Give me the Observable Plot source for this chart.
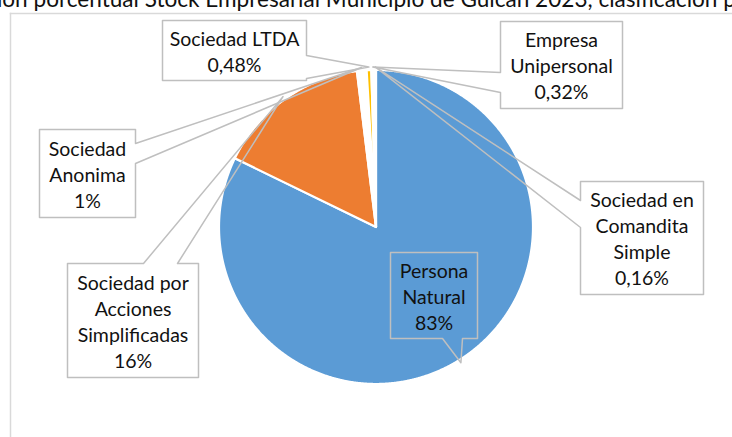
<!DOCTYPE html>
<html>
<head>
<meta charset="utf-8">
<script src="https://cdn.jsdelivr.net/npm/d3@7"></script>
<script src="https://cdn.jsdelivr.net/npm/@observablehq/plot@0.6"></script>
<style>
  html, body { margin: 0; padding: 0; background: #fff; overflow: hidden; }
</style>
</head>
<body>
<div id="chart"></div>
<script>
// ---------- data ----------
const title = "Distribución porcentual Stock Empresarial Municipio de Güicán 2023, clasificación por organización jurídica";
const categories = [
  "Persona Natural",
  "Sociedad por Acciones Simplificadas",
  "Sociedad Anonima",
  "Sociedad LTDA",
  "Empresa Unipersonal",
  "Sociedad en Comandita Simple"
];
const shares = [83, 16, 1, 0.48, 0.32, 0.16];
const shareLabels = ["83%", "16%", "1%", "0,48%", "0,32%", "0,16%"];
const sliceColors = ["#5B9BD5", "#ED7D31", "#FFFFFF", "#FFC000", "#FFFFFF", "#FFFFFF"];

// ---------- layout ----------
const W = 732, H = 437;
const pieGeom = { cx: 375.5, cy: 226.5, r: 157 };
const callouts = [
  { name: "Persona Natural", box: [390, 252, 477, 338], side: "bottom", base: [442, 462], lines: ["Persona", "Natural"], fill: "none" },
  { name: "Sociedad por Acciones Simplificadas", box: [67, 263, 198, 377], side: "top", base: [143, 177], lines: ["Sociedad por", "Acciones", "Simplificadas"], fill: "white" },
  { name: "Sociedad Anonima", box: [39, 129, 135, 217], side: "right", base: [143, 163], lines: ["Sociedad", "Anonima"], fill: "white" },
  { name: "Sociedad LTDA", box: [162, 20, 306, 80], side: "right", base: [55, 78], lines: ["Sociedad LTDA"], fill: "white" },
  { name: "Empresa Unipersonal", box: [500, 21, 622, 108], side: "left", base: [72, 92], lines: ["Empresa", "Unipersonal"], fill: "white" },
  { name: "Sociedad en Comandita Simple", box: [580, 181, 703, 294], side: "left", base: [200, 227], lines: ["Sociedad en", "Comandita", "Simple"], fill: "white" }
];
const FONT = "Lato";
const labelSize = 19.5;

// ---------- geometry from data ----------
const arcs = d3.pie().sort(null).value(d => d.share)(
  categories.map((name, i) => ({ name, share: shares[i], label: shareLabels[i] }))
);
const pt = (a, rr) => [pieGeom.cx + rr * Math.sin(a), pieGeom.cy - rr * Math.cos(a)];

const slicePts = [];
for (const a of arcs) {
  const name = a.data.name;
  slicePts.push({ name, x: pieGeom.cx, y: pieGeom.cy });
  const n = Math.max(2, Math.ceil((a.endAngle - a.startAngle) / (Math.PI / 720)));
  for (let k = 0; k <= n; k++) {
    const ang = a.startAngle + (a.endAngle - a.startAngle) * k / n;
    const [x, y] = pt(ang, pieGeom.r);
    slicePts.push({ name, x, y });
  }
}

const calloutPts = [];
const boxes = [];
const texts = [];
for (const c of callouts) {
  const i = categories.indexOf(c.name);
  const a = arcs[i];
  const mid = (a.startAngle + a.endAngle) / 2;
  const [tx, ty] = pt(mid, pieGeom.r * 1.02);
  const [x0, y0, x1, y1] = c.box;
  const [b0, b1] = c.base;
  let poly;
  if (c.side === "right") poly = [[x0, y0], [x1, y0], [x1, b0], [tx, ty], [x1, b1], [x1, y1], [x0, y1]];
  else if (c.side === "left") poly = [[x0, y0], [x1, y0], [x1, y1], [x0, y1], [x0, b1], [tx, ty], [x0, b0]];
  else if (c.side === "top") poly = [[x0, y0], [b0, y0], [tx, ty], [b1, y0], [x1, y0], [x1, y1], [x0, y1]];
  else poly = [[x0, y0], [x1, y0], [x1, y1], [b1, y1], [tx, ty], [b0, y1], [x0, y1]];
  for (const [x, y] of poly) calloutPts.push({ name: c.name, x, y });
  boxes.push({ name: c.name, x1: x0, x2: x1, y1: y0, y2: y1, fill: c.fill });
  texts.push({ x: (x0 + x1) / 2, y: (y0 + y1) / 2, text: [...c.lines, a.data.label].join("\n") });
}

// ---------- title fit ----------
const ctx = document.createElement("canvas").getContext("2d");
ctx.font = `100px ${FONT}`;
const spanW = ctx.measureText("porcentual Stock Empresarial Municipio de Güicán 2023, clasificación ").width;
const titleSize = 100 * 690 / spanW;
ctx.font = `${titleSize}px ${FONT}`;
const prefixW = ctx.measureText("Distribución ").width;
const titleRow = [{ t: title, x: 33 - prefixW, y: 6 }];

// ---------- plot ----------
const chart = Plot.plot({
  width: W,
  height: H,
  marginLeft: 10,
  marginTop: 13,
  marginRight: 0,
  marginBottom: 0,
  x: { domain: [0, W], range: [0, W], axis: null },
  y: { domain: [0, H], range: [0, H], axis: null },
  color: { domain: categories, range: sliceColors },
  style: { fontFamily: FONT, background: "white", overflow: "visible" },
  marks: [
    Plot.frame({ anchor: "left", stroke: "#D9D9D9", strokeWidth: 1.5 }),
    Plot.frame({ anchor: "top", stroke: "#D9D9D9", strokeWidth: 1.5 }),
    Plot.line(slicePts, { x: "x", y: "y", z: "name", fill: "name", stroke: "white", strokeWidth: 2.2, curve: "linear-closed" }),
    Plot.rect(boxes.filter(b => b.fill !== "none"), { x1: "x1", x2: "x2", y1: "y1", y2: "y2", fill: "white" }),
    Plot.line(calloutPts, { x: "x", y: "y", z: "name", stroke: "#BFBFBF", strokeWidth: 1.5, fill: "none", curve: "linear-closed" }),
    Plot.text(texts, { x: "x", y: "y", text: "text", fontSize: labelSize, lineHeight: 26 / labelSize, fill: "#111", textAnchor: "middle", lineAnchor: "middle" }),
    Plot.text(titleRow, { x: "x", y: "y", text: "t", fontSize: titleSize, fill: "#111", textAnchor: "start", lineAnchor: "bottom" })
  ]
});
document.getElementById("chart").appendChild(chart);
</script>
</body>
</html>
